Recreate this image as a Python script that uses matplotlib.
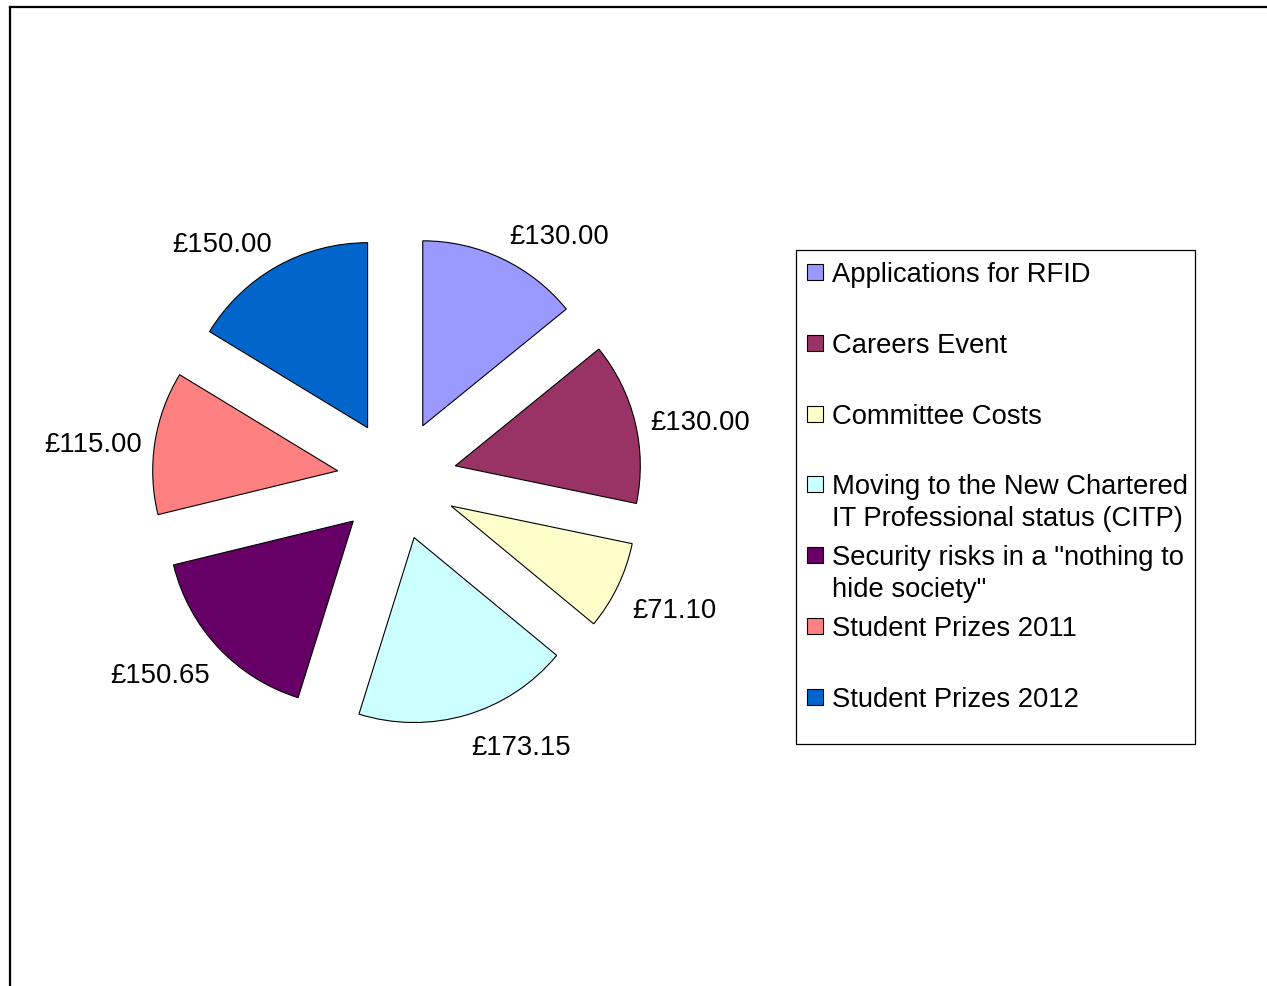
import numpy as np
import matplotlib
matplotlib.use("Agg")
import matplotlib.pyplot as plt
from matplotlib.patches import Rectangle

plt.rcParams['font.family'] = ['Liberation Sans', 'DejaVu Sans']

categories = ["Applications for RFID",
              "Careers Event",
              "Committee Costs",
              "Moving to the New Chartered\nIT Professional status (CITP)",
              "Security risks in a \"nothing to\nhide society\"",
              "Student Prizes 2011",
              "Student Prizes 2012"]
values = [130.00, 130.00, 71.10, 173.15, 150.65, 115.00, 150.00]
colors = ["#9999FF", "#993366", "#FFFFCC", "#CCFFFF", "#660066", "#FF8080", "#0066CC"]

W, H = 1267, 986
fig = plt.figure(figsize=(W / 100, H / 100), dpi=100)
ax = fig.add_axes([0, 0, 1, 1])

# pie geometry in pixel units (y measured from the bottom)
R = 185
wedges, _ = ax.pie(values, colors=colors, radius=R, center=(397, H - 480),
                   explode=[60] * len(values), startangle=90, counterclock=False,
                   wedgeprops=dict(edgecolor="black", linewidth=0.8))

# value labels, placed just outside each wedge like Excel does
for w, v in zip(wedges, values):
    cx, cy = w.center
    th = np.deg2rad((w.theta1 + w.theta2) / 2)
    c, s = np.cos(th), np.sin(th)
    px = cx + 1.085 * w.r * c + (3 if c < 0 else 0)
    py = cy + 1.085 * w.r * s - 5
    ha = "left" if c > 0 else "right"
    va = "bottom" if s > 0.3 else ("top" if s < -0.3 else "center")
    ax.text(px, py, "£%.2f" % v, ha=ha, va=va, fontsize=19.8)

# legend box drawn by hand
lx0, ly0, lx1, ly1 = 796, 250, 1195, 744
ax.add_patch(Rectangle((lx0, H - ly1), lx1 - lx0, ly1 - ly0,
                       facecolor="white", edgecolor="black", linewidth=0.9))
step = 70.8
for i, (lab, col) in enumerate(zip(categories, colors)):
    yc = ly0 + 22 + i * step
    ax.add_patch(Rectangle((807, H - yc - 8), 16, 16, facecolor=col,
                           edgecolor="black", linewidth=0.8))
    ax.text(832, H - yc + 10, lab, ha="left", va="top", fontsize=19.7,
            linespacing=1.27)

# outer chart frame (runs off the right and bottom edges)
ax.plot([10, 10], [-10, H - 6.5], color="black", linewidth=1.6, clip_on=False)
ax.plot([10, W + 10], [H - 6.5, H - 6.5], color="black", linewidth=1.6, clip_on=False)

ax.set_xlim(0, W)
ax.set_ylim(0, H)
ax.set_aspect("auto")
ax.axis("off")

fig.savefig("out.png", dpi=100)
